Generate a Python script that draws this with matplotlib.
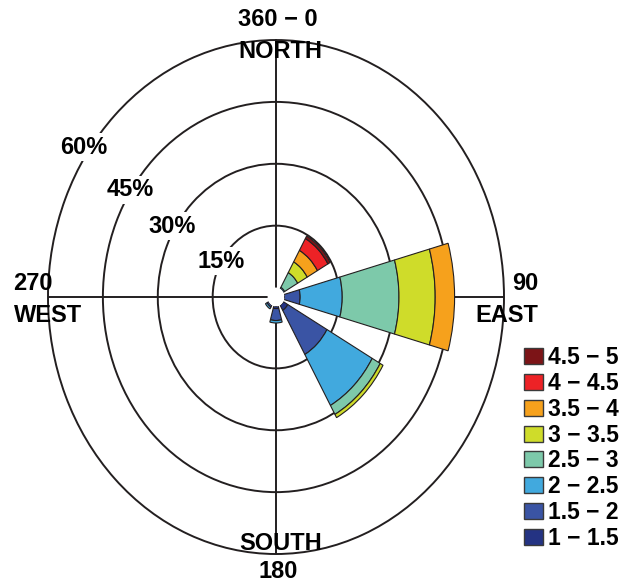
import numpy as np
import matplotlib
matplotlib.use("Agg")
import matplotlib.pyplot as plt
from matplotlib.patches import Patch

plt.rcParams["font.family"] = ["Liberation Sans", "DejaVu Sans"]
plt.rcParams["font.weight"] = "bold"

# wind directions (deg, clockwise from north)
richtungen = [0, 45, 90, 135, 180, 225, 270, 315]

klassen = ["1 − 1.5", "1.5 − 2", "2 − 2.5", "2.5 − 3",
           "3 − 3.5", "3.5 − 4", "4 − 4.5", "4.5 − 5"]
farben = ["#243383", "#3a54a4", "#41a9de", "#7dc9aa",
          "#cfdc2a", "#f6a11c", "#ed2226", "#7c1417"]

# frequency (%) per speed class, one value per direction
f_1_15 = [0, 0, 0, 1.4, 0.5, 0, 0, 0]
f_15_2 = [0, 0, 4.3, 12.3, 2.9, 0.5, 0, 0]
f_2_25 = [0, 0.4, 11.5, 14.2, 0.6, 0.5, 0, 0]
f_25_3 = [0, 4.1, 15.5, 2.5, 0, 0, 0, 0]
f_3_35 = [0, 3.0, 9.9, 0.9, 0, 0, 0, 0]
f_35_4 = [0, 3.2, 5.3, 0, 0, 0, 0, 0]
f_4_45 = [0, 3.3, 0, 0, 0, 0, 0, 0]
f_45_5 = [0, 0.7, 0, 0, 0, 0, 0, 0]

ringe = [15, 30, 45, 60]

haeufigkeiten = [f_1_15, f_15_2, f_2_25, f_25_3, f_3_35, f_35_4, f_4_45, f_45_5]

fig = plt.figure(figsize=(6.25, 5.87), dpi=100)
ax = fig.add_axes([0.0768, 0.0562, 0.7296, 0.8756], projection="polar")
ax.set_aspect("auto")
ax.set_theta_zero_location("N")
ax.set_theta_direction(-1)
ax.set_ylim(0, 60)
ax.set_rorigin(-2.3)

theta = np.deg2rad(richtungen)
breite = np.deg2rad(31)
unten = np.zeros(len(richtungen))
for werte, farbe in zip(haeufigkeiten, farben):
    werte = np.array(werte, dtype=float)
    da = werte > 0  # leere Klassen nicht zeichnen, sonst Randlinien
    ax.bar(theta[da], werte[da], width=breite, bottom=unten[da], color=farbe,
           edgecolor="#231f20", linewidth=0.8, zorder=3)
    unten = unten + werte

ax.set_yticks(ringe[:-1])
ax.set_yticklabels([])
ax.set_xticks(np.deg2rad([0, 90, 180, 270]))
ax.set_xticklabels([])
ax.grid(True, color="#231f20", linewidth=1.4, linestyle="-")
ax.tick_params(length=0)
ax.spines["polar"].set_color("#231f20")
ax.spines["polar"].set_linewidth(1.4)
# draw() schaltet den inneren Rand wieder ein -> unsichtbar machen
ax.spines["inner"].set_linewidth(0)
ax.spines["inner"].set_edgecolor("none")


def px(x, y, s, **kw):
    fig.text(x / 625, 1 - y / 587, s, fontsize=17, ha="center",
             va="center", zorder=5, **kw)


# Ringbeschriftung mit weissem Hintergrund
weiss = dict(facecolor="white", edgecolor="none", pad=1.5)
for (x, y), r in zip([(221, 261), (172, 226), (130, 190), (84, 147)], ringe):
    px(x, y, f"{r}%", bbox=weiss)

px(278, 20, "360 − 0")
px(280, 52, "NORTH")
px(281, 543, "SOUTH")
px(278, 572, "180")
px(33, 284, "270")
px(48, 315, "WEST")
px(525, 284, "90")
px(507, 315, "EAST")

griffe = [Patch(facecolor=c, edgecolor="#3a3a3a", linewidth=1.0, label=k)
          for c, k in zip(farben, klassen)][::-1]
fig.legend(handles=griffe, loc="upper left", bbox_to_anchor=(0.838, 0.41),
           frameon=False, fontsize=16.5, handlelength=0.85, handleheight=0.7,
           handletextpad=0.2, labelspacing=0.12, borderpad=0, borderaxespad=0)

fig.savefig("out.png", dpi=100)
